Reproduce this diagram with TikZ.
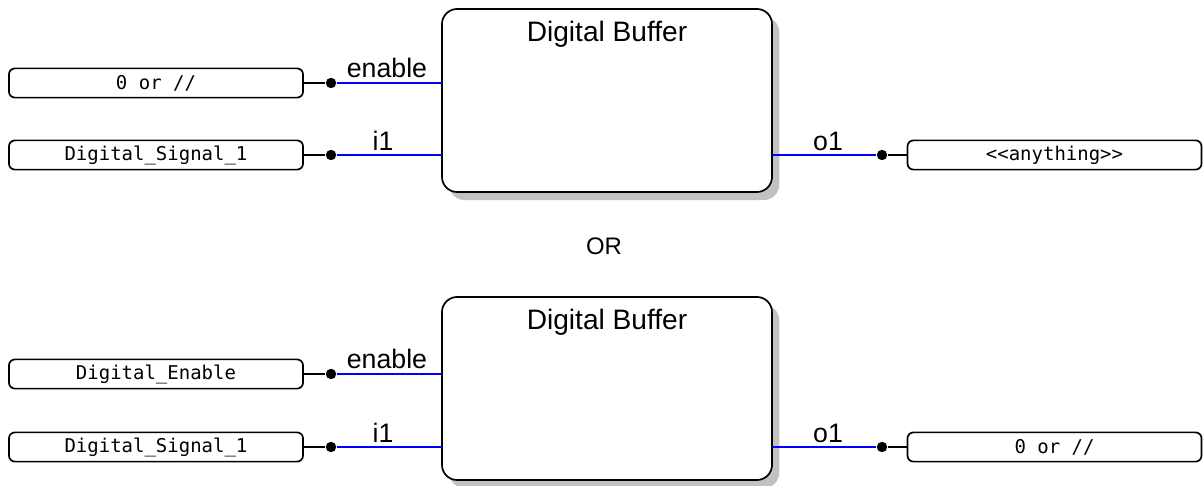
\documentclass[tikz,border=0pt]{standalone}
\usepackage{fontspec}
\setmainfont{Liberation Sans}
\setmonofont{DejaVu Sans Mono}
\usetikzlibrary{shadows}
\begin{document}
\begin{tikzpicture}[x=0.025cm, y=-0.025cm, line width=1.2pt,
 block node/.style={draw,rectangle,rounded corners=0.38cm,fill=white,minimum width=8.25cm,minimum height=4.575cm,drop shadow={shadow xshift=0.18cm,shadow yshift=-0.2cm,fill=black!40,opacity=.6}},
 tag node/.style={draw,rectangle,rounded corners=0.15cm,fill=white,minimum width=7.35cm,minimum height=0.73cm,inner sep=0pt,font=\ttfamily\fontsize{13.5}{15}\selectfont},
 dot node/.style={circle,fill=black,minimum size=0.26cm,inner sep=0pt},
 port/.style={font=\fontsize{19}{22}\selectfont},
 title/.style={font=\fontsize{20}{23}\selectfont},
 wire/.style={draw={rgb,255:red,0;green,0;blue,255},line width=1.6pt}]
\useasboundingbox (0,0) rectangle (1203,486);
\begin{scope}
% first variant
\node[block node] (b1) at (607,100.5) {};
\node[title,anchor=north] (t1) at (b1.north) [yshift=-0.18cm] {Digital Buffer};
\node[tag node] (l1en) at (156,83) {0 or //};
\node[tag node] (l1i) at (156,155) {Digital\_Signal\_1};
\node[tag node] (r1o) at (1054.5,155) {<{}<anything>{}>};
\node[dot node] (d1en) at (331,83) {};
\node[dot node] (d1i) at (331,155) {};
\node[dot node] (d1o) at (882,155) {};
\coordinate (p1en) at (442,83);
\coordinate (p1i) at (442,155);
\coordinate (p1o) at (772,155);
\node[port] (n1en) at (387,68) {enable};
\node[port] (n1i) at (383,141) {i1};
\node[port] (n1o) at (828,141) {o1};
% OR
\node[font=\fontsize{17}{20}\selectfont] (or) at (604,246) {OR};
% second variant
\node[block node] (b2) at (607,388.5) {};
\node[title,anchor=north] (t2) at (b2.north) [yshift=-0.18cm] {Digital Buffer};
\node[tag node] (l2en) at (156,374) {Digital\_Enable};
\node[tag node] (l2i) at (156,447) {Digital\_Signal\_1};
\node[tag node] (r2o) at (1054.5,447) {0 or //};
\node[dot node] (d2en) at (331,374) {};
\node[dot node] (d2i) at (331,447) {};
\node[dot node] (d2o) at (882,447) {};
\coordinate (p2en) at (442,374);
\coordinate (p2i) at (442,447);
\coordinate (p2o) at (772,447);
\node[port] (n2en) at (387,359) {enable};
\node[port] (n2i) at (383,433) {i1};
\node[port] (n2o) at (828,433) {o1};
\end{scope}
\begin{scope}
\draw (l1en) -- (d1en);
\draw (l1i) -- (d1i);
\draw (r1o) -- (d1o);
\draw[wire] (d1en) -- (p1en);
\draw[wire] (d1i) -- (p1i);
\draw[wire] (d1o) -- (p1o);
\draw (l2en) -- (d2en);
\draw (l2i) -- (d2i);
\draw (r2o) -- (d2o);
\draw[wire] (d2en) -- (p2en);
\draw[wire] (d2i) -- (p2i);
\draw[wire] (d2o) -- (p2o);
\end{scope}
\end{tikzpicture}
\end{document}
